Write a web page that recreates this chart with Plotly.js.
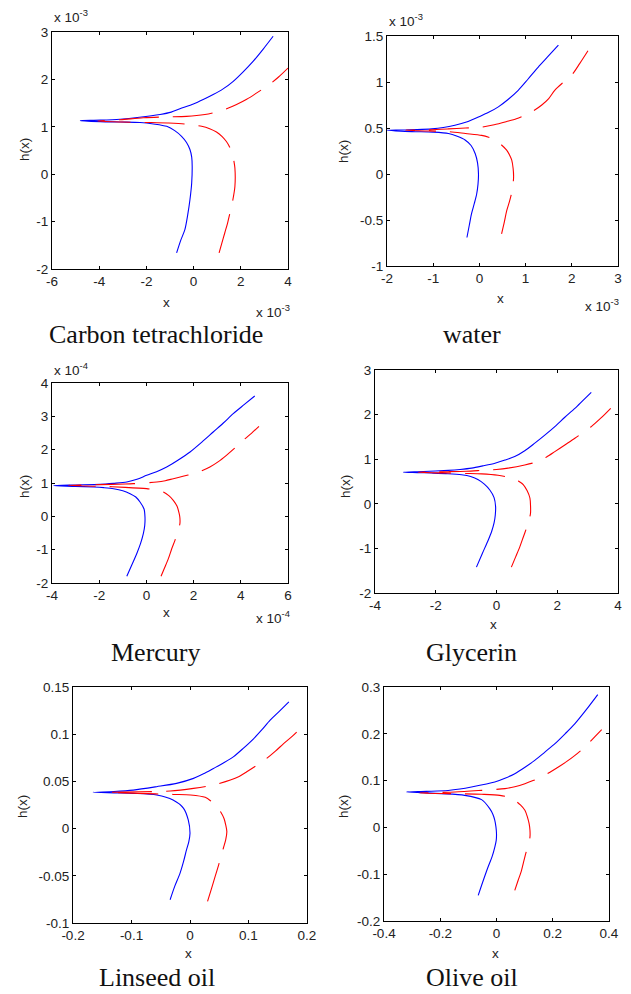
<!DOCTYPE html>
<html>
<head>
<meta charset="utf-8">
<script src="https://cdn.plot.ly/plotly-3.0.1.min.js"></script>
<style>
html,body{margin:0;padding:0;background:#fff;}
#chart{width:631px;height:994px;}
</style>
</head>
<body>
<div id="chart"></div>
<script>
// ---------- DATA (values in displayed axis units) ----------
// Carbon tetrachloride (x 1e-3)
const ccl4BlueX = [-0.72,-0.55,-0.37,-0.25,-0.155,-0.08,-0.06,-0.08,-0.155,-0.30,-0.51,-0.80,-1.14,-1.70,-2.27,-3.10,-3.96,-4.80,-3.95,-3.11,-2.30,-1.42,-0.95,-0.58,-0.01,0.43,0.83,1.25,1.68,2.10,2.52,2.95,3.37];
const ccl4BlueY = [-1.66,-1.40,-1.17,-0.86,-0.54,-0.18,0.17,0.36,0.52,0.67,0.80,0.92,1.01,1.06,1.09,1.10,1.11,1.13,1.14,1.16,1.20,1.26,1.31,1.38,1.48,1.58,1.68,1.80,1.96,2.16,2.38,2.64,2.91];
const ccl4RedX = [1.08,1.20,1.32,1.44,1.54,1.66,1.75,1.75,1.70,1.63,1.52,1.39,1.20,0.97,0.68,0.34,-0.37,-1.10,-1.85,-3.00,-4.06,-3.10,-2.13,-1.20,-0.30,0.48,1.11,1.45,1.82,2.25,2.66,3.23,3.60,4.00];
const ccl4RedY = [-1.66,-1.45,-1.24,-1.03,-0.82,-0.55,-0.26,0.13,0.30,0.45,0.58,0.69,0.80,0.89,0.96,1.01,1.06,1.08,1.09,1.10,1.12,1.15,1.19,1.21,1.22,1.26,1.33,1.39,1.47,1.58,1.71,1.90,2.05,2.24];

// water (x 1e-3)
const waterBlueX = [-0.27,-0.22,-0.17,-0.11,-0.06,-0.03,-0.02,-0.04,-0.09,-0.18,-0.31,-0.48,-0.67,-1.00,-1.39,-1.70,-2.00,-1.70,-1.35,-1.03,-0.78,-0.53,-0.28,-0.02,0.20,0.41,0.62,0.84,1.05,1.27,1.49,1.71];
const waterBlueY = [-0.69,-0.56,-0.43,-0.32,-0.22,-0.11,0.00,0.12,0.22,0.31,0.37,0.41,0.44,0.455,0.46,0.465,0.475,0.478,0.482,0.49,0.505,0.53,0.565,0.62,0.67,0.73,0.81,0.91,1.03,1.16,1.28,1.40];
const waterRedX = [0.48,0.54,0.59,0.65,0.70,0.73,0.74,0.73,0.70,0.65,0.59,0.47,0.34,0.20,0.05,-0.30,-0.67,-1.10,-1.60,-1.10,-0.67,-0.30,0.05,0.32,0.59,0.80,0.99,1.18,1.35,1.50,1.63,1.80,1.99,2.17,2.35];
const waterRedY = [-0.65,-0.52,-0.40,-0.30,-0.20,-0.10,-0.03,0.06,0.15,0.21,0.26,0.32,0.37,0.40,0.42,0.44,0.46,0.468,0.475,0.48,0.49,0.50,0.51,0.535,0.57,0.60,0.64,0.69,0.75,0.82,0.91,0.99,1.07,1.20,1.34];

// Mercury (x 1e-4)
const mercuryBlueX = [-0.83,-0.62,-0.41,-0.25,-0.13,-0.07,-0.06,-0.10,-0.27,-0.45,-0.69,-1.00,-1.39,-1.80,-2.24,-3.00,-3.93,-3.00,-1.96,-1.40,-0.83,-0.40,0.01,0.43,0.86,1.35,1.85,2.34,2.83,3.26,3.68,4.14,4.59];
const mercuryBlueY = [-1.80,-1.46,-1.12,-0.82,-0.52,-0.27,-0.02,0.22,0.43,0.58,0.68,0.77,0.83,0.86,0.88,0.90,0.92,0.94,0.96,0.99,1.03,1.11,1.23,1.34,1.48,1.69,1.93,2.22,2.53,2.80,3.08,3.35,3.61];
const mercuryRedX = [0.62,0.78,0.93,1.07,1.21,1.33,1.42,1.42,1.39,1.30,1.14,0.95,0.72,0.40,0.01,-0.90,-1.96,-3.30,-1.96,-0.90,-0.55,0.44,0.80,1.14,1.55,1.99,2.35,2.69,3.05,3.39,3.75,4.10,4.45,4.77];
const mercuryRedY = [-1.80,-1.53,-1.27,-0.98,-0.72,-0.45,-0.22,-0.05,0.08,0.30,0.48,0.62,0.73,0.79,0.83,0.87,0.90,0.93,0.95,0.97,0.98,1.03,1.07,1.13,1.20,1.28,1.37,1.48,1.64,1.83,2.05,2.28,2.49,2.70];

// Glycerin
const glycerinBlueX = [-0.66,-0.47,-0.27,-0.16,-0.08,-0.04,-0.03,-0.08,-0.22,-0.40,-0.60,-0.85,-1.15,-1.60,-2.14,-2.60,-3.07,-2.40,-1.59,-1.20,-0.82,-0.45,-0.05,0.28,0.60,0.93,1.26,1.59,1.92,2.25,2.58,2.85,3.12];
const glycerinBlueY = [-1.42,-1.12,-0.81,-0.62,-0.43,-0.25,-0.06,0.14,0.31,0.44,0.54,0.61,0.65,0.675,0.69,0.70,0.71,0.725,0.75,0.77,0.80,0.85,0.91,0.98,1.06,1.19,1.36,1.54,1.73,1.94,2.14,2.32,2.50];
const glycerinRedX = [0.49,0.63,0.77,0.88,0.99,1.07,1.12,1.12,1.10,1.01,0.88,0.72,0.55,0.30,0.05,-0.49,-1.00,-1.59,-2.58,-1.59,-1.00,-0.49,0.00,0.38,0.93,1.37,1.65,1.92,2.25,2.58,2.85,3.12,3.45,3.76];
const glycerinRedY = [-1.42,-1.19,-0.96,-0.75,-0.54,-0.37,-0.21,-0.04,0.13,0.29,0.43,0.51,0.57,0.61,0.64,0.67,0.68,0.69,0.71,0.72,0.73,0.75,0.77,0.80,0.87,0.95,1.05,1.17,1.32,1.47,1.60,1.73,1.93,2.14];

// Linseed oil
const linseedBlueX = [-0.034,-0.026,-0.017,-0.011,-0.006,-0.002,0.000,-0.003,-0.011,-0.029,-0.057,-0.097,-0.130,-0.166,-0.130,-0.097,-0.057,-0.023,0.006,0.023,0.040,0.057,0.074,0.091,0.109,0.123,0.137,0.153,0.169];
const linseedBlueY = [-0.0754,-0.0610,-0.0472,-0.0348,-0.0225,-0.0137,-0.0049,0.0092,0.0215,0.0303,0.0356,0.0373,0.0378,0.0384,0.0393,0.0408,0.0444,0.0479,0.0532,0.0580,0.0637,0.0695,0.0760,0.0850,0.0954,0.1048,0.1148,0.1245,0.1342];
const linseedRedX = [0.030,0.037,0.043,0.049,0.053,0.057,0.061,0.063,0.061,0.058,0.053,0.046,0.036,0.026,0.001,-0.029,-0.086,-0.140,-0.086,-0.034,0.006,0.040,0.069,0.084,0.097,0.114,0.131,0.146,0.160,0.176,0.191];
const linseedRedY = [-0.0771,-0.0630,-0.0507,-0.0384,-0.0296,-0.0208,-0.0120,-0.0032,0.0040,0.0109,0.0170,0.0232,0.0290,0.0331,0.0356,0.0362,0.0373,0.0384,0.0390,0.0398,0.0426,0.0461,0.0514,0.0553,0.0602,0.0670,0.0743,0.0820,0.0901,0.0985,0.1077];

// Olive oil
const oliveBlueX = [-0.065,-0.048,-0.030,-0.016,-0.006,-0.001,0.000,-0.002,-0.006,-0.013,-0.024,-0.053,-0.113,-0.196,-0.260,-0.320,-0.250,-0.172,-0.130,-0.089,-0.006,0.030,0.065,0.100,0.136,0.172,0.208,0.244,0.279,0.320,0.360];
const oliveBlueY = [-0.1451,-0.1150,-0.0846,-0.0630,-0.0419,-0.0276,-0.0134,0.0010,0.0151,0.0280,0.0400,0.0593,0.0685,0.0721,0.0740,0.0756,0.0770,0.0790,0.0820,0.0863,0.0970,0.1050,0.1148,0.1280,0.1433,0.1610,0.1789,0.2000,0.2217,0.2520,0.2836];
const oliveRedX = [0.065,0.077,0.089,0.098,0.107,0.114,0.119,0.119,0.116,0.110,0.101,0.085,0.065,0.040,0.012,-0.053,-0.148,-0.273,-0.148,-0.053,0.030,0.065,0.101,0.130,0.160,0.190,0.220,0.250,0.279,0.303,0.326,0.350,0.374];
const oliveRedY = [-0.1345,-0.1130,-0.0917,-0.0700,-0.0490,-0.0350,-0.0205,-0.0060,0.0080,0.0220,0.0365,0.0480,0.0578,0.0650,0.0685,0.0707,0.0721,0.0735,0.0756,0.0792,0.0828,0.0870,0.0934,0.1000,0.1077,0.1180,0.1290,0.1410,0.1540,0.1660,0.1790,0.1940,0.2088];

// Axis ticks
const ccl4XTicks = [-6,-4,-2,0,2,4];        const ccl4YTicks = [-2,-1,0,1,2,3];
const waterXTicks = [-2,-1,0,1,2,3];        const waterYTicks = [-1,-0.5,0,0.5,1,1.5];
const mercuryXTicks = [-4,-2,0,2,4,6];      const mercuryYTicks = [-2,-1,0,1,2,3,4];
const glycerinXTicks = [-4,-2,0,2,4];       const glycerinYTicks = [-2,-1,0,1,2,3];
const linseedXTicks = [-0.2,-0.1,0,0.1,0.2]; const linseedYTicks = [-0.1,-0.05,0,0.05,0.1,0.15];
const oliveXTicks = [-0.4,-0.2,0,0.2,0.4];  const oliveYTicks = [-0.2,-0.1,0,0.1,0.2,0.3];

const panelTitles = ['Carbon tetrachloride','water','Mercury','Glycerin','Linseed oil','Olive oil'];
const exponentLabels = ['-3','-3','-4',null,null,null];
const xAxisLabel = 'x';
const yAxisLabel = 'h(x)';

// ---------- LAYOUT ----------
const W = 631, H = 994;
const panels = [
  {bx:[ccl4BlueX,ccl4BlueY], rx:[ccl4RedX,ccl4RedY], xt:ccl4XTicks, yt:ccl4YTicks, box:[52,288,32,269],
   ylab:[24,150], xlab:[166,303], expTop:[52,16], expBot:[254,311], title:[156,335]},
  {bx:[waterBlueX,waterBlueY], rx:[waterRedX,waterRedY], xt:waterXTicks, yt:waterYTicks, box:[387,618,36,266],
   ylab:[343,152], xlab:[500,298], expTop:[387,20], expBot:[583,305], title:[472,335]},
  {bx:[mercuryBlueX,mercuryBlueY], rx:[mercuryRedX,mercuryRedY], xt:mercuryXTicks, yt:mercuryYTicks, box:[52,288,383,583],
   ylab:[24,487], xlab:[166,612], expTop:[52,369], expBot:[254,617], title:[156,652]},
  {bx:[glycerinBlueX,glycerinBlueY], rx:[glycerinRedX,glycerinRedY], xt:glycerinXTicks, yt:glycerinYTicks, box:[375,618,370,593],
   ylab:[345,487], xlab:[494,624], expTop:null, expBot:null, title:[472,652]},
  {bx:[linseedBlueX,linseedBlueY], rx:[linseedRedX,linseedRedY], xt:linseedXTicks, yt:linseedYTicks, box:[73,307,687,923],
   ylab:[22,807], xlab:[188,953], expTop:null, expBot:null, title:[157,977]},
  {bx:[oliveBlueX,oliveBlueY], rx:[oliveRedX,oliveRedY], xt:oliveXTicks, yt:oliveYTicks, box:[384,609,687,921],
   ylab:[343,807], xlab:[495,953], expTop:null, expBot:null, title:[472,977]}
];

const tickFont = {family:'"Liberation Sans", Arial, sans-serif', size:13.5, color:'#222'};
const titleFont = {family:'"Liberation Serif", "DejaVu Serif", serif', size:26, color:'#111'};

const data = [];
const layout = {
  width:W, height:H, margin:{l:0,r:0,t:0,b:0},
  paper_bgcolor:'#fff', plot_bgcolor:'#fff', showlegend:false,
  annotations:[]
};
const px = x => x / W;
const py = y => 1 - y / H;

panels.forEach((p, i) => {
  const n = i + 1;
  const xa = 'x' + (n === 1 ? '' : n), ya = 'y' + (n === 1 ? '' : n);
  const xk = 'xaxis' + (n === 1 ? '' : n), yk = 'yaxis' + (n === 1 ? '' : n);
  data.push({x:p.bx[0], y:p.bx[1], xaxis:xa, yaxis:ya, type:'scatter', mode:'lines',
             line:{color:'#0000ff', width:1.1, shape:'spline', smoothing:0.8}, hoverinfo:'skip'});
  data.push({x:p.rx[0], y:p.rx[1], xaxis:xa, yaxis:ya, type:'scatter', mode:'lines',
             line:{color:'#ff0000', width:1.1, dash:'40px,14px', shape:'spline', smoothing:0.8}, hoverinfo:'skip'});
  const common = {showline:true, linecolor:'#000', linewidth:1, mirror:'ticks', ticks:'inside',
                  ticklen:3, tickcolor:'#000', showgrid:false, zeroline:false, fixedrange:true,
                  tickfont:tickFont, tickmode:'array'};
  layout[xk] = Object.assign({}, common, {
    domain:[px(p.box[0]), px(p.box[1])], anchor:ya,
    range:[p.xt[0], p.xt[p.xt.length-1]], tickvals:p.xt, ticktext:p.xt.map(String)});
  layout[yk] = Object.assign({}, common, {
    domain:[py(p.box[3]), py(p.box[2])], anchor:xa,
    range:[p.yt[0], p.yt[p.yt.length-1]], tickvals:p.yt, ticktext:p.yt.map(String)});
  const A = layout.annotations;
  A.push({text:yAxisLabel, xref:'paper', yref:'paper', x:px(p.ylab[0]), y:py(p.ylab[1]),
          xanchor:'center', yanchor:'middle', textangle:-90, showarrow:false, font:tickFont});
  A.push({text:xAxisLabel, xref:'paper', yref:'paper', x:px(p.xlab[0]), y:py(p.xlab[1]),
          xanchor:'center', yanchor:'middle', showarrow:false, font:tickFont});
  A.push({text:panelTitles[i], xref:'paper', yref:'paper', x:px(p.title[0]), y:py(p.title[1]),
          xanchor:'center', yanchor:'middle', showarrow:false, font:titleFont});
  if (exponentLabels[i]) {
    const t = 'x 10<sup>' + exponentLabels[i] + '</sup>';
    A.push({text:t, xref:'paper', yref:'paper', x:px(p.expTop[0]), y:py(p.expTop[1]),
            xanchor:'left', yanchor:'middle', showarrow:false, font:tickFont});
    A.push({text:t, xref:'paper', yref:'paper', x:px(p.expBot[0]), y:py(p.expBot[1]),
            xanchor:'left', yanchor:'middle', showarrow:false, font:tickFont});
  }
});

Plotly.newPlot('chart', data, layout, {staticPlot:true, displayModeBar:false});
</script>
</body>
</html>
